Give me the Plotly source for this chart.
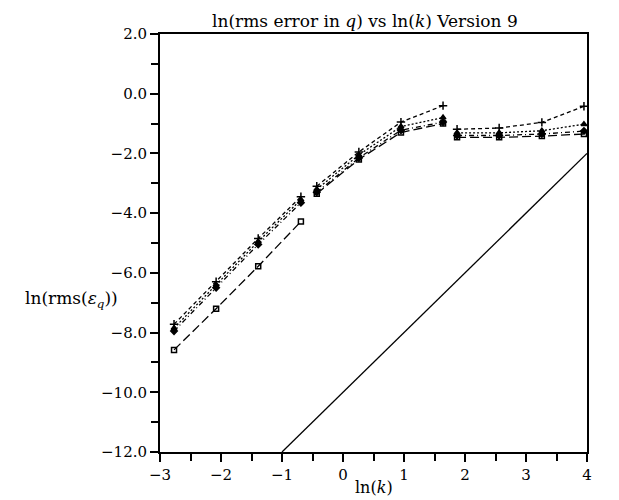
import plotly.graph_objects as go

# ln(k) positions of the three groups of runs
x_a = [-2.77, -2.08, -1.39, -0.69]
x_b = [-0.43, 0.26, 0.95, 1.64]
x_c = [1.87, 2.56, 3.26, 3.95]

# ln(rms error) per series, per group
plus_a = [-7.72, -6.30, -4.85, -3.45]
plus_b = [-3.10, -1.95, -0.95, -0.40]
plus_c = [-1.19, -1.15, -0.96, -0.42]

tri_a = [-7.85, -6.40, -4.95, -3.55]
tri_b = [-3.20, -2.05, -1.10, -0.80]
tri_c = [-1.31, -1.31, -1.24, -1.02]

dia_a = [-7.95, -6.50, -5.05, -3.65]
dia_b = [-3.30, -2.15, -1.22, -0.95]
dia_c = [-1.40, -1.40, -1.35, -1.25]

sq_a = [-8.58, -7.20, -5.78, -4.28]
sq_b = [-3.35, -2.20, -1.30, -1.00]
sq_c = [-1.46, -1.46, -1.42, -1.35]

# reference slope-2 line
ref_x = [-1.0, 4.0]
ref_y = [-12.0, -2.0]

x_ticks = [-3, -2, -1, 0, 1, 2, 3, 4]
x_tick_text = ["\u22123", "\u22122", "\u22121", "0", "1", "2", "3", "4"]
y_ticks = [2, 0, -2, -4, -6, -8, -10, -12]
y_tick_text = ["2.0", "0.0", "\u22122.0", "\u22124.0", "\u22126.0", "\u22128.0", "\u221210.0", "\u221212.0"]


def join(a, b, c):
    return a + [None] + b + [None] + c


X = join(x_a, x_b, x_c)
FONT = "DejaVu Serif, Liberation Serif, serif"

fig = go.Figure()
series = [
    (join(plus_a, plus_b, plus_c), "4px,3px", "cross-thin", 6),
    (join(tri_a, tri_b, tri_c), "2px,2px", "triangle-up", 5),
    (join(dia_a, dia_b, dia_c), "5px,3px,1px,3px", "diamond", 5),
    (join(sq_a, sq_b, sq_c), "9px,4px", "square-open", 5),
]
for ys, dash, sym, size in series:
    fig.add_trace(go.Scatter(
        x=X, y=ys, mode="lines+markers", connectgaps=False,
        line=dict(color="black", width=1.3, dash=dash),
        marker=dict(symbol=sym, size=size, color="black",
                    line=dict(color="black", width=1.5)),
        showlegend=False,
    ))

fig.add_trace(go.Scatter(x=ref_x, y=ref_y, mode="lines",
                         line=dict(color="black", width=1.3), showlegend=False))

axis_common = dict(showgrid=False, zeroline=False, showline=True, linecolor="black",
                   linewidth=2, mirror=True, ticks="outside", ticklen=8, tickwidth=2,
                   tickcolor="black", tickfont=dict(family=FONT, size=15, color="black"))

fig.update_xaxes(range=[-3, 4], tickvals=x_ticks, ticktext=x_tick_text,
                 minor=dict(dtick=0.5, ticks="outside", ticklen=7, tickwidth=2, tickcolor="black"),
                 **axis_common)
fig.update_yaxes(range=[-12, 2], tickvals=y_ticks, ticktext=y_tick_text,
                 minor=dict(dtick=1, ticks="outside", ticklen=7, tickwidth=2, tickcolor="black"),
                 **axis_common)

fig.update_layout(
    width=619, height=500,
    margin=dict(l=160, r=32, t=34, b=48),
    paper_bgcolor="white", plot_bgcolor="white",
    font=dict(family=FONT, color="black"),
    annotations=[
        dict(text="ln(rms error in <i>q</i>) vs ln(<i>k</i>) Version 9",
             x=0.48, y=1.0, xref="paper", yref="paper", xanchor="center", yanchor="bottom",
             yshift=1, showarrow=False, font=dict(family=FONT, size=17)),
        dict(text="ln(<i>k</i>)", x=0.5, y=0, xref="paper", yref="paper",
             xanchor="center", yanchor="top", yshift=-24, showarrow=False,
             font=dict(family=FONT, size=16)),
        dict(text="ln(rms(<i>\u03b5<sub>q</sub></i>))", x=0, y=-6.9, xref="paper", yref="y",
             xanchor="right", yanchor="middle", xshift=-40, showarrow=False,
             font=dict(family=FONT, size=17)),
    ],
)

fig.write_html("out.html")
